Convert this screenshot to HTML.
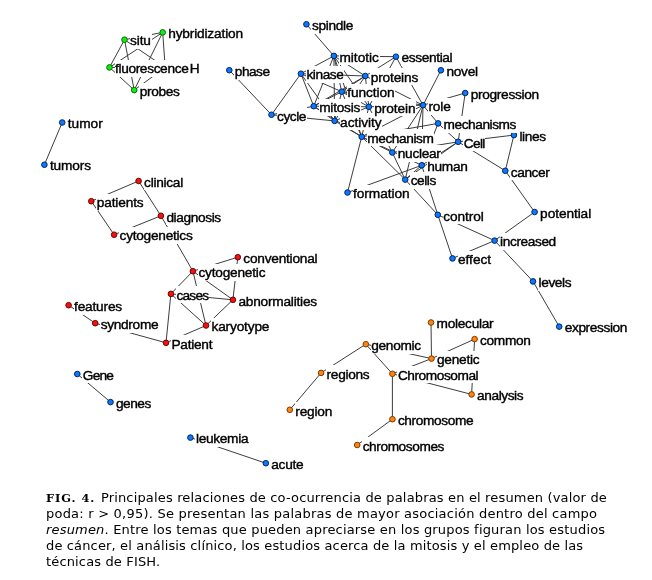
<!DOCTYPE html>
<html lang="es"><head><meta charset="utf-8"><title>FIG. 4</title>
<style>
html,body{margin:0;padding:0;background:#fff}
#fig{position:relative;z-index:0;width:652px;height:580px;overflow:hidden;background:#fff;font-family:"Liberation Sans",sans-serif}
#fig svg{position:absolute;left:0;top:0;z-index:-3}
.l{position:absolute;color:#000;font:13.7px/17px "Liberation Sans",sans-serif;white-space:nowrap;height:16.6px;padding:.4px .7px 0 .5px;-webkit-text-stroke:0.4px #000}
.l::before{content:"";position:absolute;left:0;top:0;right:0;bottom:0;background:#fff;z-index:-1}
.l.f{background:#fff;z-index:-2}
.l.f::before{display:none}
#cap{position:absolute;left:46px;top:489.8px;width:600px;color:#000;font:13px/16px "DejaVu Sans",sans-serif;white-space:nowrap}
#cap b{font:bold 11.4px/16px "DejaVu Serif",serif;letter-spacing:.95px;margin-right:1.4px}
#cap div{height:16px}
</style></head><body><div id="fig">
<svg width="652" height="580" viewBox="0 0 652 580">
<g stroke="#333" stroke-width="0.95" fill="none" stroke-linecap="butt">
<line x1="124.5" y1="39.7" x2="109.5" y2="67.4"/>
<line x1="124.5" y1="39.7" x2="162.7" y2="32.4"/>
<line x1="124.5" y1="39.7" x2="134.2" y2="90.1"/>
<line x1="124.5" y1="39.7" x2="165.2" y2="67.4"/>
<line x1="162.7" y1="32.4" x2="109.5" y2="67.4"/>
<line x1="162.7" y1="32.4" x2="165.2" y2="67.4"/>
<line x1="162.7" y1="32.4" x2="134.2" y2="90.1"/>
<line x1="109.5" y1="67.4" x2="134.2" y2="90.1"/>
<line x1="165.2" y1="67.4" x2="134.2" y2="90.1"/>
<line x1="109.5" y1="67.4" x2="165.2" y2="67.4"/>
<line x1="62.2" y1="122.5" x2="44.4" y2="164.7"/>
<line x1="77.3" y1="374.0" x2="110.5" y2="402.1"/>
<line x1="190.4" y1="437.6" x2="265.8" y2="463.2"/>
<line x1="229.3" y1="70.2" x2="271.5" y2="114.75"/>
<line x1="306.4" y1="24.3" x2="333.9" y2="55.9"/>
<line x1="271.5" y1="114.75" x2="300.9" y2="73.7"/>
<line x1="271.5" y1="114.75" x2="334.6" y2="120.9"/>
<line x1="271.5" y1="114.75" x2="313.7" y2="106.2"/>
<line x1="333.9" y1="55.9" x2="395.9" y2="56.7"/>
<line x1="333.9" y1="55.9" x2="300.9" y2="73.7"/>
<line x1="333.9" y1="55.9" x2="313.7" y2="106.2"/>
<line x1="333.9" y1="55.9" x2="334.6" y2="120.9"/>
<line x1="333.9" y1="55.9" x2="341.7" y2="91.7"/>
<line x1="333.9" y1="55.9" x2="368.8" y2="106.8"/>
<line x1="333.9" y1="55.9" x2="365.3" y2="76.0"/>
<line x1="333.9" y1="55.9" x2="361.7" y2="136.8"/>
<line x1="300.9" y1="73.7" x2="365.3" y2="76.0"/>
<line x1="300.9" y1="73.7" x2="341.7" y2="91.7"/>
<line x1="300.9" y1="73.7" x2="313.7" y2="106.2"/>
<line x1="300.9" y1="73.7" x2="334.6" y2="120.9"/>
<line x1="365.3" y1="76.0" x2="395.9" y2="56.7"/>
<line x1="365.3" y1="76.0" x2="341.7" y2="91.7"/>
<line x1="365.3" y1="76.0" x2="313.7" y2="106.2"/>
<line x1="365.3" y1="76.0" x2="334.6" y2="120.9"/>
<line x1="365.3" y1="76.0" x2="368.8" y2="106.8"/>
<line x1="365.3" y1="76.0" x2="423.0" y2="105.2"/>
<line x1="341.7" y1="91.7" x2="313.7" y2="106.2"/>
<line x1="341.7" y1="91.7" x2="334.6" y2="120.9"/>
<line x1="341.7" y1="91.7" x2="368.8" y2="106.8"/>
<line x1="341.7" y1="91.7" x2="423.0" y2="105.2"/>
<line x1="341.7" y1="91.7" x2="361.7" y2="136.8"/>
<line x1="313.7" y1="106.2" x2="334.6" y2="120.9"/>
<line x1="313.7" y1="106.2" x2="368.8" y2="106.8"/>
<line x1="313.7" y1="106.2" x2="361.7" y2="136.8"/>
<line x1="368.8" y1="106.8" x2="334.6" y2="120.9"/>
<line x1="368.8" y1="106.8" x2="423.0" y2="105.2"/>
<line x1="368.8" y1="106.8" x2="361.7" y2="136.8"/>
<line x1="368.8" y1="106.8" x2="392.3" y2="152.5"/>
<line x1="368.8" y1="106.8" x2="395.9" y2="56.7"/>
<line x1="395.9" y1="56.7" x2="423.0" y2="105.2"/>
<line x1="334.6" y1="120.9" x2="361.7" y2="136.8"/>
<line x1="440.9" y1="70.3" x2="423.0" y2="105.2"/>
<line x1="465.2" y1="93.0" x2="423.0" y2="105.2"/>
<line x1="465.2" y1="93.0" x2="458.2" y2="141.8"/>
<line x1="423.0" y1="105.2" x2="438.1" y2="123.4"/>
<line x1="423.0" y1="105.2" x2="361.7" y2="136.8"/>
<line x1="423.0" y1="105.2" x2="392.3" y2="152.5"/>
<line x1="423.0" y1="105.2" x2="405.2" y2="179.6"/>
<line x1="423.0" y1="105.2" x2="421.7" y2="165.3"/>
<line x1="438.1" y1="123.4" x2="361.7" y2="136.8"/>
<line x1="438.1" y1="123.4" x2="458.2" y2="141.8"/>
<line x1="438.1" y1="123.4" x2="421.7" y2="165.3"/>
<line x1="361.7" y1="136.8" x2="347.5" y2="192.5"/>
<line x1="361.7" y1="136.8" x2="392.3" y2="152.5"/>
<line x1="361.7" y1="136.8" x2="405.2" y2="179.6"/>
<line x1="361.7" y1="136.8" x2="421.7" y2="165.3"/>
<line x1="392.3" y1="152.5" x2="405.2" y2="179.6"/>
<line x1="392.3" y1="152.5" x2="458.2" y2="141.8"/>
<line x1="421.7" y1="165.3" x2="347.5" y2="192.5"/>
<line x1="421.7" y1="165.3" x2="405.2" y2="179.6"/>
<line x1="421.7" y1="165.3" x2="437.8" y2="214.8"/>
<line x1="421.7" y1="165.3" x2="458.2" y2="141.8"/>
<line x1="458.2" y1="141.8" x2="405.2" y2="179.6"/>
<line x1="458.2" y1="141.8" x2="513.9" y2="135.1"/>
<line x1="458.2" y1="141.8" x2="505.3" y2="170.8"/>
<line x1="513.9" y1="135.1" x2="505.3" y2="170.8"/>
<line x1="505.3" y1="170.8" x2="534.6" y2="212.0"/>
<line x1="534.6" y1="212.0" x2="494.6" y2="240.6"/>
<line x1="494.6" y1="240.6" x2="533.0" y2="281.4"/>
<line x1="533.0" y1="281.4" x2="559.2" y2="326.6"/>
<line x1="437.8" y1="214.8" x2="494.6" y2="240.6"/>
<line x1="494.6" y1="240.6" x2="452.5" y2="258.4"/>
<line x1="437.8" y1="214.8" x2="452.5" y2="258.4"/>
<line x1="405.2" y1="179.6" x2="437.8" y2="214.8"/>
<line x1="138.6" y1="181.0" x2="91.3" y2="201.2"/>
<line x1="138.6" y1="181.0" x2="160.9" y2="215.8"/>
<line x1="91.3" y1="201.2" x2="114.1" y2="234.7"/>
<line x1="160.9" y1="215.8" x2="114.1" y2="234.7"/>
<line x1="160.9" y1="215.8" x2="192.9" y2="271.2"/>
<line x1="237.8" y1="257.2" x2="192.9" y2="271.2"/>
<line x1="237.8" y1="257.2" x2="232.9" y2="299.8"/>
<line x1="192.9" y1="271.2" x2="170.9" y2="293.9"/>
<line x1="192.9" y1="271.2" x2="232.9" y2="299.8"/>
<line x1="192.9" y1="271.2" x2="206.0" y2="325.5"/>
<line x1="170.9" y1="293.9" x2="232.9" y2="299.8"/>
<line x1="170.9" y1="293.9" x2="206.0" y2="325.5"/>
<line x1="170.9" y1="293.9" x2="166.0" y2="342.8"/>
<line x1="232.9" y1="299.8" x2="206.0" y2="325.5"/>
<line x1="206.0" y1="325.5" x2="166.0" y2="342.8"/>
<line x1="95.2" y1="323.2" x2="166.0" y2="342.8"/>
<line x1="68.6" y1="305.2" x2="95.2" y2="323.2"/>
<line x1="431.0" y1="322.5" x2="431.5" y2="358.6"/>
<line x1="474.6" y1="339.1" x2="431.5" y2="358.6"/>
<line x1="474.6" y1="339.1" x2="471.6" y2="394.4"/>
<line x1="365.8" y1="344.2" x2="431.5" y2="358.6"/>
<line x1="365.8" y1="344.2" x2="321.1" y2="372.9"/>
<line x1="365.8" y1="344.2" x2="392.4" y2="373.8"/>
<line x1="431.5" y1="358.6" x2="392.4" y2="373.8"/>
<line x1="392.4" y1="373.8" x2="471.6" y2="394.4"/>
<line x1="392.4" y1="373.8" x2="392.4" y2="419.2"/>
<line x1="392.4" y1="419.2" x2="357.2" y2="445.0"/>
<line x1="321.1" y1="372.9" x2="289.8" y2="409.8"/>
</g>
<circle cx="165.2" cy="67.4" r="2.8" fill="#10f010" stroke="#0a6a0a" stroke-width="1"/>
<circle cx="124.5" cy="39.7" r="2.8" fill="#10f010" stroke="#0a6a0a" stroke-width="1"/>
<circle cx="162.7" cy="32.4" r="2.8" fill="#10f010" stroke="#0a6a0a" stroke-width="1"/>
<circle cx="109.5" cy="67.4" r="2.8" fill="#10f010" stroke="#0a6a0a" stroke-width="1"/>
<circle cx="134.2" cy="90.1" r="2.8" fill="#10f010" stroke="#0a6a0a" stroke-width="1"/>
<circle cx="62.2" cy="122.5" r="2.8" fill="#0a78ff" stroke="#04255e" stroke-width="1"/>
<circle cx="44.4" cy="164.7" r="2.8" fill="#0a78ff" stroke="#04255e" stroke-width="1"/>
<circle cx="229.3" cy="70.2" r="2.8" fill="#0a78ff" stroke="#04255e" stroke-width="1"/>
<circle cx="271.5" cy="114.75" r="2.8" fill="#0a78ff" stroke="#04255e" stroke-width="1"/>
<circle cx="306.4" cy="24.3" r="2.8" fill="#0a78ff" stroke="#04255e" stroke-width="1"/>
<circle cx="333.9" cy="55.9" r="2.8" fill="#0a78ff" stroke="#04255e" stroke-width="1"/>
<circle cx="395.9" cy="56.7" r="2.8" fill="#0a78ff" stroke="#04255e" stroke-width="1"/>
<circle cx="300.9" cy="73.7" r="2.8" fill="#0a78ff" stroke="#04255e" stroke-width="1"/>
<circle cx="365.3" cy="76.0" r="2.8" fill="#0a78ff" stroke="#04255e" stroke-width="1"/>
<circle cx="440.9" cy="70.3" r="2.8" fill="#0a78ff" stroke="#04255e" stroke-width="1"/>
<circle cx="341.7" cy="91.7" r="2.8" fill="#0a78ff" stroke="#04255e" stroke-width="1"/>
<circle cx="465.2" cy="93.0" r="2.8" fill="#0a78ff" stroke="#04255e" stroke-width="1"/>
<circle cx="313.7" cy="106.2" r="2.8" fill="#0a78ff" stroke="#04255e" stroke-width="1"/>
<circle cx="368.8" cy="106.8" r="2.8" fill="#0a78ff" stroke="#04255e" stroke-width="1"/>
<circle cx="423.0" cy="105.2" r="2.8" fill="#0a78ff" stroke="#04255e" stroke-width="1"/>
<circle cx="334.6" cy="120.9" r="2.8" fill="#0a78ff" stroke="#04255e" stroke-width="1"/>
<circle cx="438.1" cy="123.4" r="2.8" fill="#0a78ff" stroke="#04255e" stroke-width="1"/>
<circle cx="361.7" cy="136.8" r="2.8" fill="#0a78ff" stroke="#04255e" stroke-width="1"/>
<circle cx="458.2" cy="141.8" r="2.8" fill="#0a78ff" stroke="#04255e" stroke-width="1"/>
<circle cx="513.9" cy="135.1" r="2.8" fill="#0a78ff" stroke="#04255e" stroke-width="1"/>
<circle cx="392.3" cy="152.5" r="2.8" fill="#0a78ff" stroke="#04255e" stroke-width="1"/>
<circle cx="421.7" cy="165.3" r="2.8" fill="#0a78ff" stroke="#04255e" stroke-width="1"/>
<circle cx="505.3" cy="170.8" r="2.8" fill="#0a78ff" stroke="#04255e" stroke-width="1"/>
<circle cx="405.2" cy="179.6" r="2.8" fill="#0a78ff" stroke="#04255e" stroke-width="1"/>
<circle cx="347.5" cy="192.5" r="2.8" fill="#0a78ff" stroke="#04255e" stroke-width="1"/>
<circle cx="437.8" cy="214.8" r="2.8" fill="#0a78ff" stroke="#04255e" stroke-width="1"/>
<circle cx="534.6" cy="212.0" r="2.8" fill="#0a78ff" stroke="#04255e" stroke-width="1"/>
<circle cx="494.6" cy="240.6" r="2.8" fill="#0a78ff" stroke="#04255e" stroke-width="1"/>
<circle cx="452.5" cy="258.4" r="2.8" fill="#0a78ff" stroke="#04255e" stroke-width="1"/>
<circle cx="533.0" cy="281.4" r="2.8" fill="#0a78ff" stroke="#04255e" stroke-width="1"/>
<circle cx="559.2" cy="326.6" r="2.8" fill="#0a78ff" stroke="#04255e" stroke-width="1"/>
<circle cx="77.3" cy="374.0" r="2.8" fill="#0a78ff" stroke="#04255e" stroke-width="1"/>
<circle cx="110.5" cy="402.1" r="2.8" fill="#0a78ff" stroke="#04255e" stroke-width="1"/>
<circle cx="190.4" cy="437.6" r="2.8" fill="#0a78ff" stroke="#04255e" stroke-width="1"/>
<circle cx="265.8" cy="463.2" r="2.8" fill="#0a78ff" stroke="#04255e" stroke-width="1"/>
<circle cx="138.6" cy="181.0" r="2.8" fill="#f51010" stroke="#6a0606" stroke-width="1"/>
<circle cx="91.3" cy="201.2" r="2.8" fill="#f51010" stroke="#6a0606" stroke-width="1"/>
<circle cx="160.9" cy="215.8" r="2.8" fill="#f51010" stroke="#6a0606" stroke-width="1"/>
<circle cx="114.1" cy="234.7" r="2.8" fill="#f51010" stroke="#6a0606" stroke-width="1"/>
<circle cx="237.8" cy="257.2" r="2.8" fill="#f51010" stroke="#6a0606" stroke-width="1"/>
<circle cx="192.9" cy="271.2" r="2.8" fill="#f51010" stroke="#6a0606" stroke-width="1"/>
<circle cx="170.9" cy="293.9" r="2.8" fill="#f51010" stroke="#6a0606" stroke-width="1"/>
<circle cx="232.9" cy="299.8" r="2.8" fill="#f51010" stroke="#6a0606" stroke-width="1"/>
<circle cx="68.6" cy="305.2" r="2.8" fill="#f51010" stroke="#6a0606" stroke-width="1"/>
<circle cx="95.2" cy="323.2" r="2.8" fill="#f51010" stroke="#6a0606" stroke-width="1"/>
<circle cx="206.0" cy="325.5" r="2.8" fill="#f51010" stroke="#6a0606" stroke-width="1"/>
<circle cx="166.0" cy="342.8" r="2.8" fill="#f51010" stroke="#6a0606" stroke-width="1"/>
<circle cx="431.0" cy="322.5" r="2.8" fill="#ff8410" stroke="#7a3c06" stroke-width="1"/>
<circle cx="474.6" cy="339.1" r="2.8" fill="#ff8410" stroke="#7a3c06" stroke-width="1"/>
<circle cx="365.8" cy="344.2" r="2.8" fill="#ff8410" stroke="#7a3c06" stroke-width="1"/>
<circle cx="431.5" cy="358.6" r="2.8" fill="#ff8410" stroke="#7a3c06" stroke-width="1"/>
<circle cx="321.1" cy="372.9" r="2.8" fill="#ff8410" stroke="#7a3c06" stroke-width="1"/>
<circle cx="392.4" cy="373.8" r="2.8" fill="#ff8410" stroke="#7a3c06" stroke-width="1"/>
<circle cx="471.6" cy="394.4" r="2.8" fill="#ff8410" stroke="#7a3c06" stroke-width="1"/>
<circle cx="289.8" cy="409.8" r="2.8" fill="#ff8410" stroke="#7a3c06" stroke-width="1"/>
<circle cx="392.4" cy="419.2" r="2.8" fill="#ff8410" stroke="#7a3c06" stroke-width="1"/>
<circle cx="357.2" cy="445.0" r="2.8" fill="#ff8410" stroke="#7a3c06" stroke-width="1"/>
</svg>
<span class="l f" style="left:170.2px;top:59.8px;letter-spacing:-0.712px">FISH</span>
<span class="l" style="left:129.5px;top:32.1px;letter-spacing:-0.107px">situ</span>
<span class="l" style="left:167.7px;top:24.8px;letter-spacing:-0.164px">hybridization</span>
<span class="l" style="left:114.5px;top:59.8px;letter-spacing:-0.351px;padding-right:2px">fluorescence</span>
<span class="l" style="left:139.2px;top:82.5px;letter-spacing:-0.359px">probes</span>
<span class="l" style="left:67.2px;top:114.9px;letter-spacing:0.020px">tumor</span>
<span class="l" style="left:49.4px;top:157.1px;letter-spacing:-0.132px">tumors</span>
<span class="l" style="left:234.3px;top:62.6px;letter-spacing:-0.511px">phase</span>
<span class="l" style="left:276.5px;top:107.2px;letter-spacing:-0.441px">cycle</span>
<span class="l" style="left:311.4px;top:16.7px;letter-spacing:-0.313px">spindle</span>
<span class="l" style="left:338.9px;top:48.3px;letter-spacing:0.003px">mitotic</span>
<span class="l" style="left:400.9px;top:49.1px;letter-spacing:-0.348px">essential</span>
<span class="l" style="left:305.9px;top:66.1px;letter-spacing:-0.418px">kinase</span>
<span class="l" style="left:370.3px;top:68.4px;letter-spacing:-0.179px">proteins</span>
<span class="l" style="left:445.9px;top:62.7px;letter-spacing:-0.276px">novel</span>
<span class="l" style="left:346.7px;top:84.1px;letter-spacing:-0.074px">function</span>
<span class="l" style="left:470.2px;top:85.4px;letter-spacing:-0.307px">progression</span>
<span class="l" style="left:318.7px;top:98.6px;letter-spacing:-0.246px">mitosis</span>
<span class="l" style="left:373.8px;top:99.2px;letter-spacing:-0.077px">protein</span>
<span class="l" style="left:428.0px;top:97.6px;letter-spacing:-0.186px">role</span>
<span class="l" style="left:339.6px;top:113.3px;letter-spacing:-0.052px">activity</span>
<span class="l" style="left:443.1px;top:115.8px;letter-spacing:-0.451px">mechanisms</span>
<span class="l" style="left:366.7px;top:129.2px;letter-spacing:-0.402px">mechanism</span>
<span class="l" style="left:463.2px;top:134.2px;letter-spacing:-0.622px">Cell</span>
<span class="l" style="left:518.9px;top:127.5px;letter-spacing:-0.336px">lines</span>
<span class="l" style="left:397.3px;top:144.9px;letter-spacing:-0.294px">nuclear</span>
<span class="l" style="left:426.7px;top:157.7px;letter-spacing:-0.281px">human</span>
<span class="l" style="left:510.3px;top:163.2px;letter-spacing:-0.428px">cancer</span>
<span class="l" style="left:410.2px;top:172.0px;letter-spacing:-0.437px">cells</span>
<span class="l" style="left:352.5px;top:184.9px;letter-spacing:-0.054px">formation</span>
<span class="l" style="left:442.8px;top:207.2px;letter-spacing:-0.108px">control</span>
<span class="l" style="left:539.6px;top:204.4px;letter-spacing:-0.081px">potential</span>
<span class="l" style="left:499.6px;top:233.0px;letter-spacing:-0.402px">increased</span>
<span class="l" style="left:457.5px;top:250.8px;letter-spacing:-0.031px">effect</span>
<span class="l" style="left:538.0px;top:273.8px;letter-spacing:-0.383px">levels</span>
<span class="l" style="left:564.2px;top:319.0px;letter-spacing:-0.379px">expression</span>
<span class="l" style="left:82.3px;top:366.4px;letter-spacing:-0.789px">Gene</span>
<span class="l" style="left:115.5px;top:394.5px;letter-spacing:-0.509px">genes</span>
<span class="l" style="left:195.4px;top:430.0px;letter-spacing:-0.303px">leukemia</span>
<span class="l" style="left:270.8px;top:455.6px;letter-spacing:-0.290px">acute</span>
<span class="l" style="left:143.6px;top:173.4px;letter-spacing:-0.274px">clinical</span>
<span class="l" style="left:96.3px;top:193.6px;letter-spacing:-0.156px">patients</span>
<span class="l" style="left:165.9px;top:208.2px;letter-spacing:-0.387px">diagnosis</span>
<span class="l" style="left:119.1px;top:227.1px;letter-spacing:-0.268px">cytogenetics</span>
<span class="l" style="left:242.8px;top:249.6px;letter-spacing:-0.233px">conventional</span>
<span class="l" style="left:197.9px;top:263.6px;letter-spacing:-0.211px">cytogenetic</span>
<span class="l" style="left:175.9px;top:286.3px;letter-spacing:-0.740px">cases</span>
<span class="l" style="left:237.9px;top:292.2px;letter-spacing:-0.221px">abnormalities</span>
<span class="l" style="left:73.6px;top:297.6px;letter-spacing:-0.201px">features</span>
<span class="l" style="left:100.2px;top:315.6px;letter-spacing:-0.314px">syndrome</span>
<span class="l" style="left:211.0px;top:317.9px;letter-spacing:-0.177px">karyotype</span>
<span class="l" style="left:171.0px;top:335.2px;letter-spacing:-0.268px">Patient</span>
<span class="l" style="left:436.0px;top:314.9px;letter-spacing:-0.273px">molecular</span>
<span class="l" style="left:479.6px;top:331.5px;letter-spacing:-0.347px">common</span>
<span class="l" style="left:370.8px;top:336.6px;letter-spacing:-0.334px">genomic</span>
<span class="l" style="left:436.5px;top:351.0px;letter-spacing:-0.242px">genetic</span>
<span class="l" style="left:326.1px;top:365.3px;letter-spacing:-0.298px">regions</span>
<span class="l" style="left:397.4px;top:366.2px;letter-spacing:-0.448px">Chromosomal</span>
<span class="l" style="left:476.6px;top:386.8px;letter-spacing:-0.426px">analysis</span>
<span class="l" style="left:294.8px;top:402.2px;letter-spacing:-0.199px">region</span>
<span class="l" style="left:397.4px;top:411.6px;letter-spacing:-0.372px">chromosome</span>
<span class="l" style="left:362.2px;top:437.4px;letter-spacing:-0.419px">chromosomes</span>
<div id="cap">
<div style="letter-spacing:.162px"><b>FIG. 4.</b> Principales relaciones de co-ocurrencia de palabras en el resumen (valor de</div>
<div style="letter-spacing:.218px">poda: r &gt; 0,95). Se presentan las palabras de mayor asociación dentro del campo</div>
<div style="letter-spacing:.18px"><i>resumen</i>. Entre los temas que pueden apreciarse en los grupos figuran los estudios</div>
<div style="letter-spacing:.148px">de cáncer, el análisis clínico, los estudios acerca de la mitosis y el empleo de las</div>
<div style="letter-spacing:.15px">técnicas de FISH.</div>
</div>
</div></body></html>
